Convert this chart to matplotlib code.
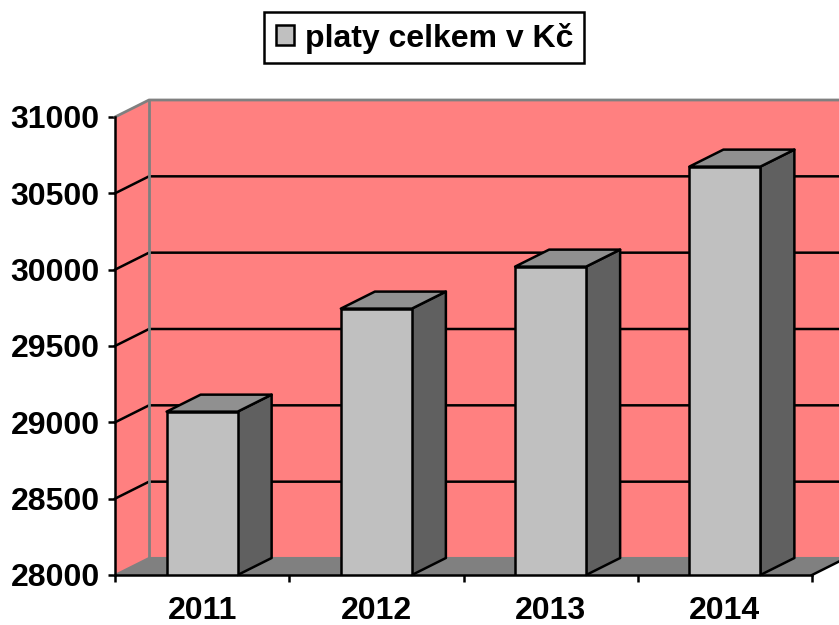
import matplotlib
matplotlib.use("Agg")
import matplotlib.pyplot as plt
from matplotlib.patches import Polygon, Patch, Rectangle

plt.rcParams['font.family'] = ['Liberation Sans', 'DejaVu Sans']
plt.rcParams['font.weight'] = 'bold'

years = ["2011", "2012", "2013", "2014"]
platy = [29070, 29745, 30020, 30675]
y_ticks = [28000, 28500, 29000, 29500, 30000, 30500, 31000]
legend_label = "platy celkem v Kč"

W, H = 839, 625
LW = 1.8
FS = 23
fig = plt.figure(figsize=(W / 100, H / 100), dpi=100)
# axes = front plane of the fake 3d box
ax = fig.add_axes([115 / W, 1 - 575 / H, (812 - 115) / W, (575 - 117) / H])
ax.set_xlim(0, 4)
ax.set_ylim(28000, 31000)
ax.patch.set_visible(False)

# depth of the box in data units
dx = 34 / ((812 - 115) / 4)
dy = 17 / ((575 - 117) / 3000)
y0, y1 = y_ticks[0], y_ticks[-1]

# walls and floor
ax.add_patch(Polygon([(0, y0), (dx, y0 + dy), (4 + dx, y0 + dy), (4 + dx, y1 + dy), (dx, y1 + dy), (0, y1)],
                     fc="#FF8080", ec="none", clip_on=False, zorder=1))
ax.add_patch(Polygon([(0, y0), (4, y0), (4 + dx, y0 + dy), (dx, y0 + dy)],
                     fc="#808080", ec="none", clip_on=False, zorder=1))

# gridlines
for t in y_ticks[1:-1]:
    ax.plot([0, dx, 4 + dx], [t, t + dy, t + dy], color="black", lw=LW, clip_on=False, zorder=2)
ax.plot([0, dx, 4 + dx], [y1, y1 + dy, y1 + dy], color="#808080", lw=2, clip_on=False, zorder=2)
ax.plot([dx, dx], [y0 + dy, y1 + dy], color="#808080", lw=2, clip_on=False, zorder=2)
ax.plot([0, dx, 4 + dx], [y0, y0 + dy, y0 + dy], color="#808080", lw=1.5, clip_on=False, zorder=2)
ax.plot([4, 4 + dx], [y0, y0 + dy], color="black", lw=LW, clip_on=False, zorder=2)

# bars
xs = [i + 0.5 for i in range(len(years))]
bw = 71 / ((812 - 115) / 4)
ax.bar(xs, platy, width=bw, bottom=0, color="#C0C0C0", edgecolor="black", linewidth=LW, zorder=4)
for x, v in zip(xs, platy):
    r = x + bw / 2
    l = x - bw / 2
    ax.add_patch(Polygon([(r, y0), (r + dx, y0 + dy), (r + dx, v + dy), (r, v)],
                         fc="#606060", ec="black", lw=LW, joinstyle="round", clip_on=False, zorder=3))
    ax.add_patch(Polygon([(l, v), (r, v), (r + dx, v + dy), (l + dx, v + dy)],
                         fc="#909090", ec="black", lw=LW, joinstyle="round", clip_on=False, zorder=3))

# axes
for s in ["top", "right"]:
    ax.spines[s].set_visible(False)
for s in ["left", "bottom"]:
    ax.spines[s].set_linewidth(LW)
    ax.spines[s].set_zorder(5)
ax.set_yticks(y_ticks)
ax.set_yticklabels([str(t) for t in y_ticks], fontsize=FS, fontweight="bold")
ax.set_xticks(range(5))
ax.set_xticklabels([])
ax.set_xticks(xs, minor=True)
ax.set_xticklabels(years, minor=True, fontsize=FS, fontweight="bold")
ax.tick_params(axis="both", which="major", length=5, width=LW, direction="out")
ax.tick_params(axis="y", pad=6)
ax.tick_params(axis="x", which="minor", length=0, pad=15)

# legend: frame drawn apart so the box size can follow the original
fig.add_artist(Rectangle((264 / W, 1 - 63 / H), 320 / W, 51 / H, transform=fig.transFigure,
                         fc="white", ec="black", lw=LW))
fig.legend(handles=[Patch(fc="#C0C0C0", ec="black", lw=LW, label=legend_label)],
           loc="center left", bbox_to_anchor=(276 / W, 1 - 38 / H),
           fontsize=FS, frameon=False, handlelength=0.57, handleheight=0.57,
           handletextpad=0.35, borderpad=0, borderaxespad=0)

fig.savefig("out.png", dpi=100)
